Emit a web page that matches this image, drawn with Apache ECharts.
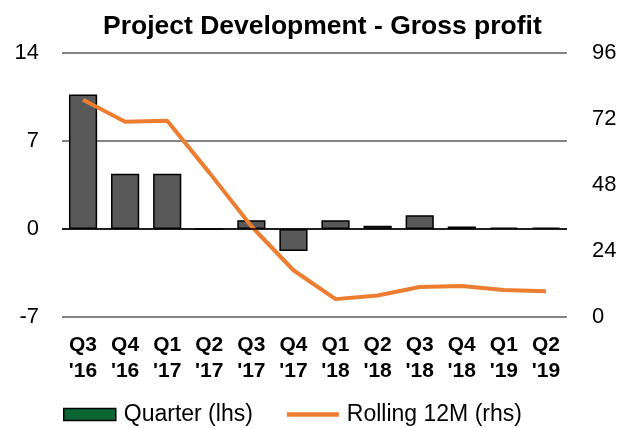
<!DOCTYPE html>
<html>
<head>
<meta charset="utf-8">
<script src="https://cdn.jsdelivr.net/npm/echarts@6/dist/echarts.min.js"></script>
<style>
  html, body { margin: 0; padding: 0; background: #fff; }
  #chart { width: 628px; height: 428px; }
</style>
</head>
<body>
<div id="chart"></div>
<script>
const chartData = {
  title: "Project Development - Gross profit",
  dataName: ["Q3\n'16", "Q4\n'16", "Q1\n'17", "Q2\n'17", "Q3\n'17", "Q4\n'17",
             "Q1\n'18", "Q2\n'18", "Q3\n'18", "Q4\n'18", "Q1\n'19", "Q2\n'19"],
  quarter: [10.7, 4.4, 4.4, 0, 0.7, -1.75, 0.7, 0.25, 1.1, 0.2, 0.1, 0.1],
  rolling: [79, 71, 71.4, 52.5, 33, 17, 6.5, 7.8, 10.9, 11.3, 9.8, 9.4]
};

const chart = echarts.init(document.getElementById("chart"));
const font = "Liberation Sans, Arial, sans-serif";

chart.setOption({
  animation: false,
  textStyle: { fontFamily: font },
  title: {
    text: chartData.title,
    left: 98,
    top: 8,
    textStyle: { fontSize: 26.5, fontWeight: "bold", color: "#000", fontFamily: font }
  },
  legend: {
    top: 398,
    left: 58,
    itemGap: 34,
    itemWidth: 52,
    itemHeight: 12,
    textStyle: { fontSize: 23, color: "#000", fontFamily: font, padding: [0, 0, 0, 3] },
    data: [
      { name: "Quarter (lhs)", icon: "rect", itemStyle: { color: "#0B6633", borderColor: "#000", borderWidth: 1.5 } },
      { name: "Rolling 12M (rhs)", icon: "path://M0,0 H57 V5 H0 Z", itemStyle: { color: "#ED7D31", borderWidth: 0 } }
    ]
  },
  grid: { left: 62, right: 61, top: 53, bottom: 111 },
  xAxis: [
    {
      type: "category",
      data: chartData.dataName,
      axisLine: { show: false },
      axisTick: { show: false },
      axisLabel: {
        color: "#000",
        fontSize: 21,
        fontWeight: "bold",
        lineHeight: 26,
        margin: 15,
        interval: 0
      }
    }
  ],
  yAxis: [
    {
      type: "value",
      min: -7,
      max: 14,
      interval: 7,
      axisLine: { show: false },
      axisTick: { show: false },
      axisLabel: { color: "#000", fontSize: 22, margin: 23 },
      splitLine: { lineStyle: { color: "#595959", width: 1.5 } }
    },
    {
      type: "value",
      min: 0,
      max: 96,
      interval: 24,
      axisLine: { show: false },
      axisTick: { show: false },
      axisLabel: { color: "#000", fontSize: 22, margin: 25 },
      splitLine: { show: false }
    }
  ],
  series: [
    {
      name: "Quarter (lhs)",
      type: "bar",
      yAxisIndex: 0,
      data: chartData.quarter,
      barCategoryGap: "33%",
      itemStyle: { color: "#595959", borderColor: "#000", borderWidth: 1.5 },
      markLine: {
        silent: true,
        symbol: "none",
        label: { show: false },
        lineStyle: { color: "#000", type: "solid", width: 1.5 },
        data: [{ yAxis: 0 }]
      }
    },
    {
      name: "Rolling 12M (rhs)",
      type: "line",
      yAxisIndex: 1,
      data: chartData.rolling,
      symbol: "none",
      lineStyle: { color: "#ED7D31", width: 4 },
      itemStyle: { color: "#ED7D31" }
    }
  ]
});
</script>
</body>
</html>
